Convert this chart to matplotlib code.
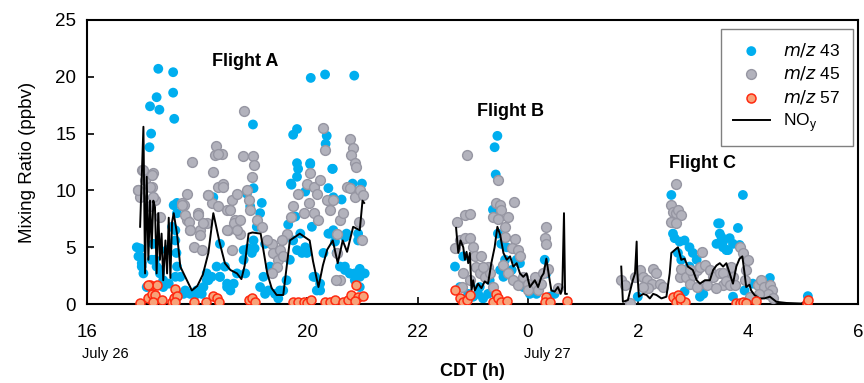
import numpy as np
import matplotlib.pyplot as plt

plt.rcParams['font.family'] = ['Liberation Sans', 'DejaVu Sans']

# hours since July 26 00:00 CDT (24 = 0 h July 27)
mz43_t = [17.29, 17.56, 17.26, 17.56, 17.14, 17.31, 17.58, 17.16, 17.13, 19.01, 19.74, 19.81,
          20.06, 20.32, 20.85, 20.35, 20.33, 19.81, 19.83, 20.05, 20.46, 19.70, 20.82, 20.38,
          19.81, 19.02, 18.29, 17.63, 17.20,
          16.96, 16.93, 16.99, 17.02, 17.08, 17.17, 17.26, 17.32, 17.38, 17.48, 17.60, 17.63,
          17.62, 17.60, 17.60, 17.63, 17.75, 17.87, 17.99, 18.11, 18.17, 18.26, 18.35, 18.41,
          18.54, 18.66, 18.72, 18.84, 18.93, 19.02, 19.08, 19.14, 19.17, 19.04, 19.20, 19.29,
          19.41, 19.50, 19.62, 19.68, 19.74, 19.81, 19.87, 19.99, 20.11, 20.17, 20.23, 20.29,
          20.38, 20.47, 20.53, 20.59, 20.68, 20.77, 20.86, 20.95, 21.04, 20.95, 20.92, 20.71,
          20.62,
          20.05, 20.45, 19.71, 20.99, 19.96, 20.47, 18.90, 18.96, 19.78, 19.65, 20.08, 20.41,
          20.50, 20.68, 20.92, 19.96, 19.90, 19.23, 19.32, 19.14, 19.23, 19.47, 19.56, 20.14,
          20.23, 20.68, 20.77, 20.86, 20.95, 18.87, 18.99,
          16.90, 16.96, 16.99, 17.23, 17.20, 17.45, 17.54, 17.57, 17.69, 17.78, 17.96, 18.08,
          18.17, 18.20, 18.41, 18.54, 18.60, 18.50, 18.84, 18.41, 17.32, 17.38,
          23.45, 23.40, 23.42, 23.37, 22.68, 22.83, 23.46, 23.52, 23.59, 23.50, 23.56, 22.77,
          22.92, 23.01, 23.10, 23.19, 23.28, 23.13, 23.80, 23.86, 23.71, 23.92, 24.04, 24.16,
          24.31, 24.34, 24.40, 24.49, 23.62, 23.31,
          26.61, 26.64, 26.67, 26.76, 26.85, 26.94, 26.79, 26.73, 27.00, 27.07, 27.46, 27.49,
          27.43, 27.55, 27.64, 27.67, 27.13, 27.19, 26.85, 26.00, 26.94, 27.91, 27.49, 27.82,
          27.52, 27.55, 27.73, 27.61, 27.85, 28.40, 28.27, 27.73, 27.94, 29.09, 28.09]
mz43_v = [20.7, 20.4, 18.2, 18.6, 17.4, 17.1, 16.3, 15.0, 13.8, 15.8, 14.9, 15.4,
          19.9, 20.2, 20.1, 14.8, 14.1, 12.4, 11.9, 12.3, 11.9, 10.6, 10.6, 10.2,
          11.2, 10.2, 9.4, 8.9, 9.4,
          4.9, 4.2, 3.6, 2.7, 1.5, 3.9, 3.3, 2.7, 2.1, 1.8, 2.4, 3.3,
          4.5, 5.6, 6.5, 8.0, 0.9, 0.9, 1.2, 1.5, 2.1, 2.4, 3.3, 2.4,
          1.5, 1.8, 2.7, 3.9, 4.9, 5.6, 6.8, 8.0, 8.9, 4.9, 2.4, 1.2,
          0.9, 1.2, 2.1, 3.9, 5.6, 4.75, 6.2, 4.5, 2.4, 1.2, 1.8, 4.5,
          6.2, 6.5, 4.5, 3.3, 3.0, 2.7, 2.7, 2.4, 2.7, 1.5, 6.2, 6.2,
          9.2,
          12.4, 11.9, 10.5, 10.6, 9.9, 9.4, 9.7, 8.6, 7.7, 7.0, 6.8, 6.2,
          5.5, 5.9, 5.6, 5.0, 4.5, 5.3, 3.3, 1.5, 0.9, 0.5, 1.2, 2.4,
          1.2, 3.3, 2.7, 2.1, 3.1, 2.7, 4.5,
          5.0, 4.2, 3.3, 3.9, 5.3, 4.75, 6.8, 8.7, 2.4, 1.2, 0.8, 0.9,
          2.7, 2.1, 2.4, 1.8, 1.2, 3.3, 4.75, 5.3, 3.0, 1.5,
          14.8, 13.8, 11.4, 8.3, 3.3, 4.2, 6.2, 5.3, 3.9, 3.0, 2.4, 1.5,
          0.9, 0.65, 0.9, 0.5, 0.9, 1.5, 3.9, 3.6, 3.0, 1.5, 0.9, 0.9,
          3.9, 2.7, 0.65, 0.9, 5.0, 2.1,
          9.6, 6.2, 5.8, 5.5, 5.6, 5.0, 3.9, 4.5, 4.5, 3.9, 7.1, 6.2,
          5.3, 5.0, 4.75, 5.8, 0.65, 0.9, 1.1, 0.65, 3.3, 9.6, 7.1, 6.7,
          5.9, 5.5, 5.3, 4.75, 5.2, 2.3, 2.0, 0.65, 1.2, 0.7, 1.8]

mz45_t = [16.99, 16.93, 16.96, 17.05, 17.20, 17.17, 17.23, 17.14, 17.32, 17.81, 17.72, 17.81,
          17.87, 17.93, 17.90, 18.02, 18.05, 18.17, 18.20, 18.26, 18.29, 18.32, 18.34, 18.44,
          18.38, 18.47, 18.54, 18.56, 18.63, 18.69, 18.72, 18.78, 18.63, 18.83, 18.85, 19.01,
          19.02, 18.99, 18.90, 18.93, 18.96, 19.08, 19.17, 19.35, 19.38, 19.47, 19.50, 19.56,
          19.44, 19.35, 19.62, 19.71, 19.74, 19.83, 19.93, 19.99, 20.05, 20.11, 20.17, 20.23,
          20.02, 20.11, 20.20, 20.29, 20.32, 20.35, 20.41, 20.47, 20.53, 20.53, 20.59, 20.65,
          20.71, 20.77, 20.83, 20.80, 20.86, 20.89, 20.77, 20.86, 20.95, 21.01, 20.99, 20.93,
          20.59, 20.52, 19.26, 19.53,
          18.38, 17.75, 17.78, 17.84, 17.87, 18.02, 18.05, 18.08, 18.11, 18.20, 18.38, 18.47,
          18.60, 18.66, 18.78, 18.72, 18.54, 16.93, 17.02, 17.17, 17.14, 17.20, 17.72,
          22.89, 22.71, 22.86, 22.95, 22.68, 22.77, 22.86, 22.95, 23.01, 23.04, 23.16, 23.06,
          23.13, 22.83, 22.80, 22.95, 23.22, 23.28, 23.31, 23.46, 23.42, 23.50, 23.52, 23.37,
          23.46, 23.64, 23.75, 23.59, 23.59, 23.77, 23.71, 23.83, 23.86, 23.56, 23.65, 23.74,
          23.83, 23.92, 24.01, 24.13, 24.10, 24.19, 24.25, 24.34, 24.31, 24.33, 24.37, 24.28,
          24.55, 24.01, 23.37, 23.19,
          26.69, 26.61, 26.64, 26.70, 26.73, 26.79, 26.61, 26.70, 27.16, 25.70, 25.76, 25.86,
          25.95, 26.04, 26.10, 26.16, 26.28, 26.34, 26.25, 26.40, 26.46, 26.19, 26.10, 26.76,
          26.79, 26.88, 26.94, 27.00, 27.07, 27.13, 27.22, 27.31, 27.37, 27.49, 27.55, 27.64,
          27.73, 27.25, 27.43, 27.07, 26.94, 27.85, 27.91, 28.00, 27.97, 27.94, 27.55, 27.61,
          27.67, 27.76, 27.70, 28.18, 28.24, 28.30, 28.40, 28.43, 28.37, 28.21, 28.09, 28.46,
          28.03]
mz45_v = [11.8, 10.0, 9.4, 10.9, 11.5, 10.3, 9.2, 8.6, 7.7, 9.7, 8.9, 7.4,
          6.5, 5.0, 12.5, 8.0, 6.5, 7.1, 9.6, 8.9, 11.6, 13.1, 13.9, 13.2,
          10.3, 10.6, 8.3, 6.5, 9.2, 7.4, 9.7, 6.2, 4.75, 13.0, 17.0, 13.0,
          12.2, 11.2, 10.0, 9.2, 8.3, 7.4, 6.8, 5.3, 4.5, 3.9, 4.75, 4.2,
          3.3, 2.7, 6.2, 7.7, 8.6, 9.7, 8.0, 10.6, 11.5, 10.3, 9.7, 10.9,
          8.9, 8.0, 7.4, 15.5, 13.6, 9.2, 8.3, 9.2, 6.2, 4.5, 7.4, 8.0,
          10.3, 14.5, 13.7, 13.1, 12.4, 12.1, 10.2, 9.4, 10.0, 9.6, 5.6, 7.2,
          2.1, 2.1, 5.6, 5.6,
          13.2, 8.7, 7.8, 7.2, 6.5, 7.8, 6.1, 4.75, 7.1, 9.6, 8.6, 10.3,
          8.3, 7.1, 7.4, 6.5, 6.5, 10.0, 11.8, 11.4, 10.3, 9.4, 8.7,
          13.1, 7.2, 7.8, 7.9, 4.9, 5.6, 5.8, 5.8, 5.0, 4.2, 4.2, 3.3,
          2.7, 2.7, 1.5, 2.1, 2.4, 3.3, 2.7, 10.9, 8.9, 8.7, 8.3, 7.7,
          7.5, 7.7, 9.0, 6.8, 5.9, 5.7, 4.9, 4.75, 4.2, 3.4, 2.7, 2.1,
          1.7, 2.4, 1.8, 2.4, 1.5, 1.2, 1.8, 6.8, 5.8, 5.3, 3.1, 2.7,
          1.4, 1.2, 1.5, 3.3,
          10.6, 8.7, 8.1, 8.0, 8.3, 7.8, 7.2, 7.1, 4.6, 2.1, 1.7, 0.1,
          2.4, 3.0, 2.4, 2.1, 3.1, 2.7, 1.8, 1.8, 1.5, 1.4, 1.5, 2.4,
          3.1, 2.4, 1.8, 2.6, 3.0, 3.3, 3.4, 3.0, 2.4, 2.7, 1.7, 2.1,
          2.4, 1.7, 1.4, 1.5, 3.0, 5.0, 4.5, 3.9, 3.0, 2.1, 2.7, 2.0,
          1.7, 1.7, 3.3, 1.7, 2.1, 1.5, 1.7, 1.2, 0.9, 0.9, 0.5, 0.5,
          0.65]

mz57_t = [16.96, 17.11, 17.17, 17.14, 17.26, 17.23, 17.20, 17.36, 17.54, 17.57, 17.60, 17.63,
          17.60, 17.93, 18.16, 18.29, 18.35, 18.40, 18.93, 18.99, 19.05, 19.74, 19.83, 19.93,
          19.99, 20.07, 20.32, 20.41, 20.50, 20.65, 20.74, 20.80, 20.89, 20.92, 21.01, 20.86,
          17.11,
          22.68, 22.78, 22.83, 22.89, 22.95, 23.37, 23.43, 23.46, 23.52, 23.62, 24.34, 24.31,
          24.40, 24.71,
          26.64, 26.73, 26.70, 26.79, 26.85, 26.76, 27.79, 27.86, 27.91, 27.97, 28.15, 29.07,
          29.09]
mz57_v = [0.1, 0.5, 0.9, 1.7, 1.7, 0.8, 0.2, 0.35, 0.2, 0.5, 1.3, 0.7,
          0.2, 0.2, 0.2, 0.7, 0.5, 0.2, 0.35, 0.5, 0.2, 0.2, 0.2, 0.2,
          0.1, 0.4, 0.2, 0.2, 0.35, 0.2, 0.35, 0.8, 1.7, 0.65, 0.7, 0.26,
          1.7,
          1.2, 0.5, 0.2, 0.35, 0.8, 0.2, 0.9, 0.5, 0.2, 0.26, 0.65, 0.2,
          0.2, 0.3,
          0.65, 0.8, 0.2, 0.2, 0.2, 0.5, 0.1, 0.1, 0.2, 0.1, 0.3, 0.1,
          0.35]

# NOy, one trace per flight
noy_a_t = [16.96, 17.02, 17.05, 17.08, 17.11, 17.14, 17.17, 17.20, 17.23, 17.26, 17.29, 17.32,
           17.35, 17.38, 17.42, 17.45, 17.48, 17.51, 17.54, 17.57, 17.63, 17.69, 17.81, 17.90,
           18.00, 18.10, 18.20, 18.29, 18.40, 18.50, 18.60, 18.72, 18.80, 18.86, 18.93, 19.00,
           19.15, 19.27, 19.35, 19.44, 19.56, 19.68, 19.86, 20.04, 20.10, 20.20, 20.28, 20.36,
           20.46, 20.55, 20.64, 20.72, 20.83, 20.95, 21.00, 21.03]
noy_a_v = [6.8, 15.6, 2.7, 11.2, 3.9, 9.1, 4.9, 9.1, 8.5, 2.7, 8.0, 3.9,
           6.2, 2.1, 5.6, 2.7, 7.6, 2.3, 7.2, 8.0, 6.2, 3.3, 2.1, 1.2,
           1.6, 2.6, 4.5, 8.0, 5.5, 3.6, 3.0, 2.7, 2.2, 3.4, 6.2, 6.3,
           6.2, 2.7, 1.4, 0.8, 0.8, 5.6, 6.2, 5.6, 3.8, 1.5, 3.4, 4.8,
           5.6, 3.6, 5.6, 4.6, 6.8, 6.5, 9.1, 8.9]

noy_b_t = [22.70, 22.74, 22.78, 22.83, 22.86, 22.89, 22.92, 22.95, 22.98, 23.01, 23.04, 23.10,
           23.16, 23.22, 23.28, 23.34, 23.40, 23.45, 23.50, 23.56, 23.62, 23.68, 23.74, 23.80,
           23.86, 23.92, 23.98, 24.04, 24.13, 24.19, 24.25, 24.29, 24.34, 24.39, 24.43, 24.49,
           24.55, 24.60, 24.63, 24.66, 24.68, 24.71]
noy_b_v = [6.7, 4.5, 5.6, 5.0, 3.9, 4.6, 3.6, 4.5, 1.2, 2.1, 1.2, 1.8,
           1.4, 2.0, 1.8, 3.6, 5.0, 6.8, 6.1, 4.5, 3.9, 4.2, 3.3, 3.6,
           2.7, 2.4, 2.7, 1.5, 2.1, 1.5, 2.4, 2.7, 4.0, 2.4, 1.2, 1.1,
           1.5, 0.9, 1.5, 8.0, 0.9, 0.9]

noy_c_t = [25.70, 25.73, 25.82, 25.91, 25.95, 25.98, 25.99, 26.02, 26.10, 26.16, 26.22, 26.28,
           26.34, 26.43, 26.52, 26.58, 26.61, 26.67, 26.73, 26.79, 26.85, 26.91, 27.00, 27.07,
           27.13, 27.22, 27.31, 27.37, 27.43, 27.49, 27.55, 27.61, 27.67, 27.73, 27.79, 27.85,
           27.90, 27.94, 27.97, 28.03, 28.06, 28.12, 28.21, 28.30, 28.40, 28.52, 28.70, 28.97,
           29.09]
noy_c_v = [3.3, 0.2, 0.35, 2.1, 2.7, 5.5, 3.0, 0.65, 0.9, 0.8, 0.5, 0.9,
           0.8, 0.5, 0.65, 2.7, 4.5, 4.75, 5.0, 3.9, 4.0, 3.3, 3.0, 2.1,
           1.8, 2.1, 2.1, 3.0, 3.4, 3.6, 3.3, 3.6, 2.7, 1.8, 3.3, 4.0,
           4.2, 2.7, 1.5, 1.7, 1.2, 0.8, 0.5, 0.5, 0.65, 0.2, 0.1, 0.05,
           0.35]

tick_pos = [16, 18, 20, 22, 24, 26, 28, 30]
tick_lab = ['16', '18', '20', '22', '0', '2', '4', '6']

fig = plt.figure(figsize=(8.64, 3.83), dpi=100)
ax = fig.add_axes([0.101, 0.206, 0.892, 0.742])

ax.scatter(mz43_t, mz43_v, s=50, color='#00AEEF', edgecolors='none', label='$m/z$ 43', zorder=2)
ax.scatter(mz45_t, mz45_v, s=50, facecolor='#B2B2BC', edgecolors='#9696A2', linewidths=1.0,
           label='$m/z$ 45', zorder=3)
ax.plot(noy_a_t, noy_a_v, color='black', lw=1.4, label='NO$_\\mathregular{y}$', zorder=4)
ax.plot(noy_b_t, noy_b_v, color='black', lw=1.4, zorder=4)
ax.plot(noy_c_t, noy_c_v, color='black', lw=1.4, zorder=4)
ax.scatter(mz57_t, mz57_v, s=42, facecolor='#F7A37A', edgecolors='#FF2A10', linewidths=1.1,
           label='$m/z$ 57', zorder=5)

ax.set_xlim(16, 30)
ax.set_ylim(0, 25)
ax.set_xticks(tick_pos)
ax.set_xticklabels(tick_lab)
ax.set_yticks([0, 5, 10, 15, 20, 25])
ax.tick_params(direction='in', length=5, width=1.2, labelsize=13.5)
ax.tick_params(axis='x', pad=14)
ax.tick_params(axis='y', pad=8)
for sp in ax.spines.values():
    sp.set_linewidth(1.5)

ax.text(15.9, -0.175, 'July 26', transform=ax.get_xaxis_transform(), fontsize=10.5, ha='left', va='center')
ax.text(23.94, -0.175, 'July 27', transform=ax.get_xaxis_transform(), fontsize=10.5, ha='left', va='center')
ax.set_xlabel('CDT (h)', fontsize=13, fontweight='bold', labelpad=16)
ax.set_ylabel('Mixing Ratio (ppbv)', fontsize=13.5, labelpad=14)

ax.text(18.87, 21.3, 'Flight A', fontsize=13, fontweight='bold', ha='center', va='center')
ax.text(23.68, 16.9, 'Flight B', fontsize=13, fontweight='bold', ha='center', va='center')
ax.text(27.18, 12.4, 'Flight C', fontsize=13, fontweight='bold', ha='center', va='center')

h, l = ax.get_legend_handles_labels()
order = [l.index('$m/z$ 43'), l.index('$m/z$ 45'), l.index('$m/z$ 57'), l.index('NO$_\\mathregular{y}$')]
leg = ax.legend([h[i] for i in order], [l[i] for i in order], loc='upper right',
                bbox_to_anchor=(0.9935, 0.968), borderaxespad=0, fontsize=12.5, fancybox=False,
                framealpha=1, edgecolor='#808080', handlelength=2.1, labelspacing=0.3, borderpad=0.7)
leg.get_frame().set_linewidth(1.0)

fig.savefig('out.png', dpi=100)
